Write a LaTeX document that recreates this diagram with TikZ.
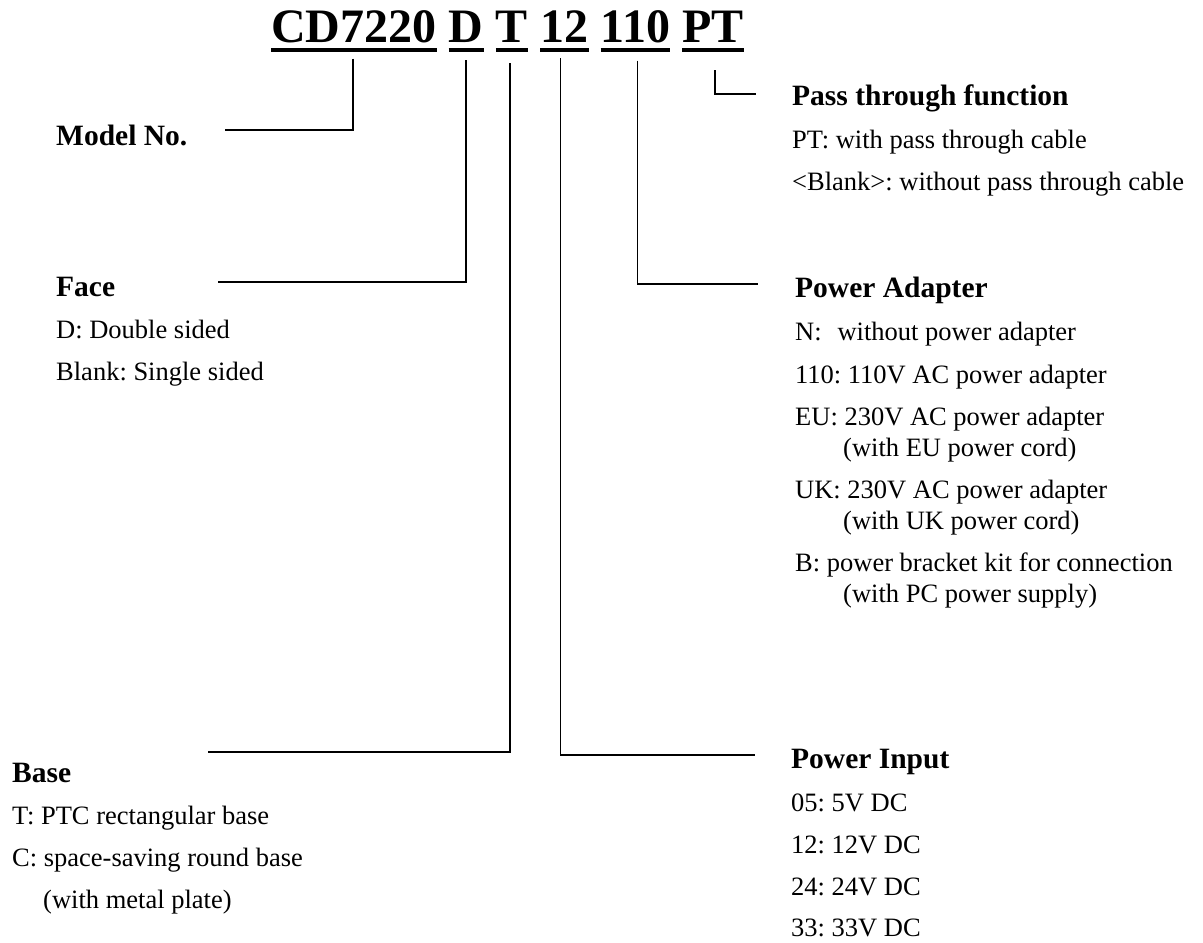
\documentclass[tikz,border=0pt]{standalone}
\usepackage{fontspec}
\setmainfont{Liberation Serif}
\frenchspacing
\begin{document}
\begin{tikzpicture}[x=1pt,y=-1pt,
  head/.style={anchor=base west,inner sep=0pt,font=\fontsize{29.5}{34}\selectfont\bfseries},
  body/.style={anchor=base west,inner sep=0pt,font=\fontsize{26.5}{31}\selectfont},
  code/.style={anchor=base west,inner sep=0pt,font=\fontsize{48}{56}\selectfont\bfseries},
  ul/.style={line width=4pt},
  link/.style={line width=1.8pt},
  thicklink/.style={line width=2.4pt}]
\useasboundingbox (0,0) rectangle (1203,943);

% model code
\node[code] (cd) at (271,42) {CD7220};
\node[code] (d)  at ([xshift=12pt]cd.base east) {D};
\node[code] (t)  at ([xshift=12pt]d.base east) {T};
\node[code] (tw) at ([xshift=12pt]t.base east) {12};
\node[code] (ot) at ([xshift=12pt]tw.base east) {110};
\node[code] (pt) at ([xshift=12pt]ot.base east) {PT};
\foreach \n in {cd,d,t,tw,ot,pt}
  \draw[ul] ([yshift=-7.5pt]\n.base west) -- ([yshift=-7.5pt]\n.base east);

% left column
\node[head] (model) at (56,145) {Model No.};
\node[head] (face)  at (56,296) {Face};
\node[body] (faceD) at (56,338) {D: Double sided};
\node[body] (faceB) at (56,380) {Blank: Single sided};
\node[head] (base)  at (12,782) {Base};
\node[body] (baseT) at (12,824) {T: PTC rectangular base};
\node[body] (baseC) at (12,866) {C: space-saving round base};
\node[body] (baseM) at (43,908) {(with metal plate)};

% right column
\node[head] (pass)  at (792,105) {Pass through function};
\node[body] (passA) at (792,148) {PT: with pass through cable};
\node[body] (passB) at (792,190) {<Blank>: without pass through cable};

\node[head] (adap)  at (795,297) {Power Adapter};
\node[body] (adN)   at (795,340) {N:\hspace{0.6em}without power adapter};
\node[body] (ad110) at (795,383) {110: 110V AC power adapter};
\node[body] (adEU)  at (795,425) {EU: 230V AC power adapter};
\node[body] (adEUb) at (843,456) {(with EU power cord)};
\node[body] (adUK)  at (795,498) {UK: 230V AC power adapter};
\node[body] (adUKb) at (843,529) {(with UK power cord)};
\node[body] (adB)   at (795,571) {B: power bracket kit for connection};
\node[body] (adBb)  at (843,602) {(with PC power supply)};

\node[head] (pin)   at (791,768) {Power Input};
\node[body] (pin05) at (791,811) {05: 5V DC};
\node[body] (pin12) at (791,853) {12: 12V DC};
\node[body] (pin24) at (791,895) {24: 24V DC};
\node[body] (pin33) at (791,936) {33: 33V DC};

% connector ends
\coordinate (mE) at (225,130);
\coordinate (fE) at (218,282);
\coordinate (bE) at (208,752);
\coordinate (iE) at (755,755);
\coordinate (aE) at (758,284);
\coordinate (pE) at (756,94);

\draw[link] ([xshift=-1pt,yshift=-16pt]cd.south) |- (mE);
\draw[link] ([yshift=-18pt]d.south) |- (fE);
\draw[thicklink] ([xshift=-2pt,yshift=-21pt]t.south) |- (bE);
\draw[link] ([xshift=-4pt,yshift=-16pt]tw.south) |- (iE);
\draw[link] ([xshift=2pt,yshift=-18pt]ot.south) |- (aE);
\draw[link] ([xshift=2pt,yshift=-28pt]pt.south) |- (pE);
\end{tikzpicture}
\end{document}
